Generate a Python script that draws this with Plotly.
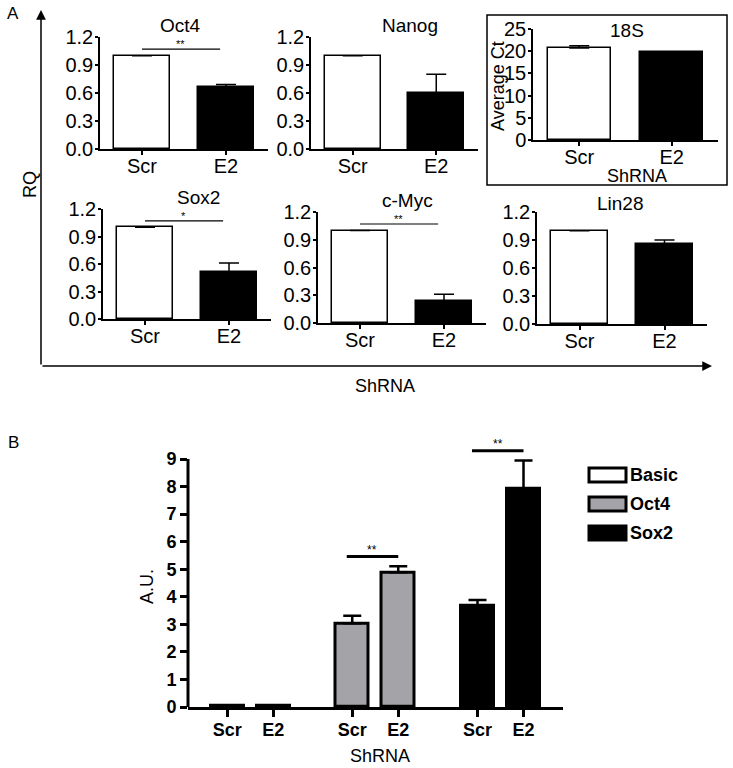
import plotly.graph_objects as go

W, H = 733, 768

# ---- data ----
shrna = ["Scr", "E2"]
genes = ["Oct4", "Nanog", "Sox2", "c-Myc", "Lin28"]
rq_scr = [1.0, 1.0, 1.0, 1.0, 1.0]
rq_e2 = [0.66, 0.60, 0.51, 0.24, 0.86]
rq_e2_err = [0.03, 0.20, 0.10, 0.07, 0.04]
sig_a = ["**", "", "*", "**", ""]

ct_18s = [20.7, 19.8]
ct_18s_err = [0.5, 0.0]

constructs = ["Basic", "Oct4", "Sox2"]
au_scr = [0.05, 3.04, 3.66]
au_scr_err = [0.0, 0.27, 0.22]
au_e2 = [0.05, 4.89, 7.93]
au_e2_err = [0.0, 0.22, 1.02]
sig_b = ["", "**", "**"]
construct_colors = ["white", "#a4a4a8", "black"]

FONT = "Liberation Sans, Arial, sans-serif"


def px(x):
    return x / W


def py(y):
    return 1 - y / H


# pixel boxes for each small panel: (left, right, top, bottom)
gene_boxes = {
    "Oct4": (100, 268, 37, 149, 1),
    "Nanog": (311, 478, 37, 149, 2),
    "Sox2": (103, 271, 209, 319, 4),
    "c-Myc": (318, 486, 212, 323, 5),
    "Lin28": (537, 707, 212, 324, 6),
}
title_pos = {
    "Oct4": (180, 25),
    "Nanog": (410, 25),
    "Sox2": (198, 197),
    "c-Myc": (407, 200),
    "Lin28": (620, 203),
}

fig = go.Figure()
layout = {}
shapes = []
annotations = []


def small_axes(k, box, yrange, dtick, fmt):
    x0, x1, yt, yb = box
    sfx = "" if k == 1 else str(k)
    layout["xaxis" + sfx] = dict(
        domain=[px(x0), px(x1)], anchor="y" + sfx, type="category",
        range=[-0.5, 1.5], showline=True, linecolor="black", linewidth=1.5,
        ticks="outside", ticklen=4, tickwidth=1.5, tickcolor="black",
        ticklabelstandoff=-6,
        tickfont=dict(size=20, color="black"), showgrid=False, zeroline=False,
    )
    layout["yaxis" + sfx] = dict(
        domain=[py(yb), py(yt)], anchor="x" + sfx, range=yrange, dtick=dtick,
        tickformat=fmt, showline=True, linecolor="black", linewidth=1.5,
        ticks="outside", ticklen=3, tickwidth=1.5, tickcolor="black",
        ticklabelstandoff=-2,
        tickfont=dict(size=20, color="black"), showgrid=False, zeroline=False,
    )
    return sfx


for i, g in enumerate(genes):
    x0, x1, yt, yb, k = gene_boxes[g]
    sfx = small_axes(k, (x0, x1, yt, yb), [0, 1.2], 0.3, ".1f")
    fig.add_trace(
        go.Bar(
            x=shrna, y=[rq_scr[i], rq_e2[i]], width=0.67,
            marker=dict(color=["white", "black"], line=dict(color="black", width=1.5)),
            error_y=dict(type="data", symmetric=False, array=[0, rq_e2_err[i]],
                         arrayminus=[0, 0], color="black", thickness=1.5, width=10),
            xaxis="x" + sfx, yaxis="y" + sfx, showlegend=False,
        )
    )
    tx, ty = title_pos[g]
    annotations.append(dict(x=px(tx), y=py(ty), text=g, font=dict(size=19)))
    if sig_a[i]:
        sy = max(rq_scr[i], rq_e2[i] + rq_e2_err[i]) + 0.07
        shapes.append(dict(type="line", xref="x" + sfx, yref="y" + sfx, x0=0, x1=0.93,
                           y0=sy, y1=sy, line=dict(color="black", width=1.2)))
        annotations.append(dict(x=0.46, y=sy, xref="x" + sfx, yref="y" + sfx,
                                text=sig_a[i], yanchor="bottom",
                                font=dict(size=11), yshift=-3))

# 18S inset
sfx = small_axes(3, (533, 718, 29, 140), [0, 25], 5, "d")
fig.add_trace(
    go.Bar(
        x=shrna, y=ct_18s, width=0.68,
        marker=dict(color=["white", "black"], line=dict(color="black", width=1.5)),
        error_y=dict(type="data", symmetric=False, array=ct_18s_err, arrayminus=[0, 0],
                     color="black", thickness=1.5, width=10),
        xaxis="x3", yaxis="y3", showlegend=False,
    )
)
shapes.append(dict(type="rect", xref="paper", yref="paper", x0=px(487), x1=px(727),
                   y0=py(185), y1=py(15), line=dict(color="black", width=1.5)))
annotations += [
    dict(x=px(627), y=py(30), text="18S", font=dict(size=19)),
    dict(x=px(498), y=py(86), text="Average Ct", textangle=-90, font=dict(size=18)),
    dict(x=px(637), y=py(176), text="ShRNA", font=dict(size=18)),
]

# panel A frame arrows and labels
annotations += [
    dict(x=px(41), y=py(10), ax=0, ay=356, axref="pixel", ayref="pixel", text="",
         showarrow=True, arrowhead=2, arrowsize=1.3, arrowwidth=1.5, arrowcolor="black"),
    dict(x=px(712), y=py(366), ax=-671, ay=0, axref="pixel", ayref="pixel", text="",
         showarrow=True, arrowhead=2, arrowsize=1.3, arrowwidth=1.5, arrowcolor="black"),
    dict(x=px(13), y=py(14), text="A", font=dict(size=17)),
    dict(x=px(30), y=py(185), text="RQ", textangle=-90, font=dict(size=18)),
    dict(x=px(385), y=py(386), text="ShRNA", font=dict(size=18)),
    dict(x=px(13), y=py(442), text="B", font=dict(size=17)),
]

# ---- panel B ----
b_left, b_right = 188, 563
b_splits = [188, 312.5, 438, 563]
b_top_val = 9.7
b_y0, b_y9 = 707, 459
b_top_px = b_y0 - (b_y0 - b_y9) * b_top_val / 9
layout["yaxis7"] = dict(
    domain=[py(b_y0), py(b_top_px)], anchor="x7", range=[0, b_top_val],
    tickvals=list(range(10)), showline=False, ticks="outside", ticklen=7,
    tickwidth=3, tickcolor="black", showgrid=False, zeroline=False,
    tickfont=dict(size=18, color="black", weight="bold"),
)
shapes.append(dict(type="line", xref="paper", yref="y7", x0=px(b_left), x1=px(b_left),
                   y0=0, y1=9, line=dict(color="black", width=3)))
for j, c in enumerate(constructs):
    k = 7 + j
    lo, hi = b_splits[j], b_splits[j + 1]
    half = (hi - lo) / 46 / 2
    layout["xaxis%d" % k] = dict(
        domain=[px(lo), px(hi)], anchor="y7", type="category",
        range=[0.5 - half, 0.5 + half], showline=True, linecolor="black", linewidth=3,
        ticks="outside", ticklen=7, tickwidth=3, tickcolor="black", showgrid=False,
        ticklabelstandoff=-3,
        zeroline=False, tickfont=dict(size=18, color="black", weight="bold"),
    )
    fig.add_trace(
        go.Bar(
            x=shrna, y=[au_scr[j], au_e2[j]], width=0.72,
            marker=dict(color=construct_colors[j], line=dict(color="black", width=3)),
            error_y=dict(type="data", symmetric=False, array=[au_scr_err[j], au_e2_err[j]],
                         arrayminus=[0, 0], color="black", thickness=2.5, width=9),
            xaxis="x%d" % k, yaxis="y7", showlegend=False, name=c,
        )
    )
    if sig_b[j]:
        sy = max(au_scr[j] + au_scr_err[j], au_e2[j] + au_e2_err[j]) + 0.35
        shapes.append(dict(type="line", xref="x%d" % k, yref="y7", x0=-0.12, x1=1.0,
                           y0=sy, y1=sy, line=dict(color="black", width=3)))
        annotations.append(dict(x=0.44, y=sy, xref="x%d" % k, yref="y7", text=sig_b[j],
                                yanchor="bottom", font=dict(size=12), yshift=-2))

annotations += [
    dict(x=px(147), y=py(587), text="A.U.", textangle=-90, font=dict(size=18)),
    dict(x=px(380), y=py(756), text="ShRNA", font=dict(size=18)),
]

# custom legend for panel B
for j, c in enumerate(constructs):
    cy = 475 + 29 * j
    shapes.append(dict(type="rect", xref="paper", yref="paper", x0=px(589), x1=px(626),
                       y0=py(cy + 7), y1=py(cy - 7),
                       fillcolor=construct_colors[j], line=dict(color="black", width=3)))
    annotations.append(dict(x=px(628), y=py(cy), text=c, xanchor="left",
                            font=dict(size=18, weight="bold")))

for a in annotations:
    a.setdefault("xref", "paper")
    a.setdefault("yref", "paper")
    a.setdefault("showarrow", False)
    a.setdefault("xanchor", "center")
    a.setdefault("yanchor", "middle")

fig.update_layout(
    width=W, height=H, autosize=False,
    margin=dict(l=0, r=0, t=0, b=0, autoexpand=False),
    paper_bgcolor="white", plot_bgcolor="white",
    font=dict(family=FONT, color="black"),
    bargap=0, shapes=shapes, annotations=annotations,
    **layout,
)

fig.write_html("out.html", config={"displayModeBar": False},
               post_script="document.body.style.margin='0';")
